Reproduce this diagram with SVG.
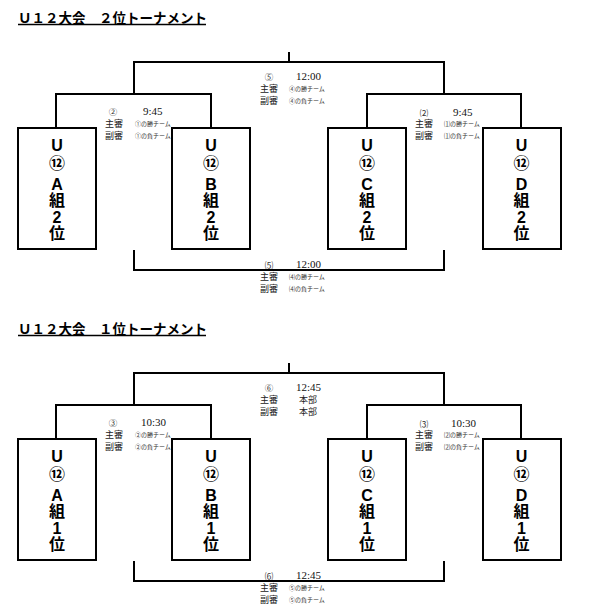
<svg xmlns="http://www.w3.org/2000/svg" width="593" height="609" viewBox="0 0 593 609">
<style>
.title{font-family:"Liberation Sans","Noto Sans CJK JP",sans-serif;font-weight:bold;font-size:13.5px;fill:#000}
.ul{stroke:#000;stroke-width:1.3}
.br{fill:none;stroke:#000;stroke-width:2}
.box{fill:#fff;stroke:#000;stroke-width:2}
.bt{font-family:"Liberation Sans","Noto Sans CJK JP",sans-serif;font-weight:bold;font-size:16px;fill:#000;text-anchor:middle;dominant-baseline:central}
.num{font-family:"Noto Sans CJK JP",sans-serif;font-size:8.5px;fill:#333;text-anchor:middle;dominant-baseline:central}
.tm{font-family:"Liberation Serif",serif;font-size:11px;fill:#111;dominant-baseline:central}
.ref{font-family:"Noto Sans CJK JP",sans-serif;font-size:9px;fill:#222;dominant-baseline:central}
.sm{font-family:"Noto Sans CJK JP",sans-serif;font-size:6px;fill:#333;dominant-baseline:central}
</style>
<rect width="593" height="609" fill="#fff"/>

<!-- titles -->
<text class="title" x="18" y="22.5">Ｕ１２大会　２位トーナメント</text>
<line class="ul" x1="18" y1="24.5" x2="206" y2="24.5"/>
<text class="title" x="18" y="333.5">Ｕ１２大会　１位トーナメント</text>
<line class="ul" x1="18" y1="335.5" x2="206" y2="335.5"/>

<g id="connectors">
  <!-- 2nd place tournament -->
  <path class="br" d="M289 52V62M134 94V62H444V94M56 128V94H211V128M367 128V94H521V128M134 250V270H444V250"/>
  <!-- 1st place tournament -->
  <path class="br" d="M289 363V373M134 405V373H444V405M56 439V405H211V439M367 439V405H521V439M134 561V581H444V561"/>
</g>

<!-- 2nd place tournament nodes -->
<g id="u12-a2">
  <rect class="box" x="18" y="128" width="78" height="121"/>
  <text class="bt" x="57" y="145">U</text><text class="bt" x="57" y="163">⑫</text><text class="bt" x="57" y="184">A</text><text class="bt" x="57" y="200">組</text><text class="bt" x="57" y="217">2</text><text class="bt" x="57" y="233">位</text>
</g>
<g id="u12-b2">
  <rect class="box" x="172" y="128" width="78" height="121"/>
  <text class="bt" x="211" y="145">U</text><text class="bt" x="211" y="163">⑫</text><text class="bt" x="211" y="184">B</text><text class="bt" x="211" y="200">組</text><text class="bt" x="211" y="217">2</text><text class="bt" x="211" y="233">位</text>
</g>
<g id="u12-c2">
  <rect class="box" x="328" y="128" width="78" height="121"/>
  <text class="bt" x="367" y="145">U</text><text class="bt" x="367" y="163">⑫</text><text class="bt" x="367" y="184">C</text><text class="bt" x="367" y="200">組</text><text class="bt" x="367" y="217">2</text><text class="bt" x="367" y="233">位</text>
</g>
<g id="u12-d2">
  <rect class="box" x="483" y="128" width="78" height="121"/>
  <text class="bt" x="521.5" y="145">U</text><text class="bt" x="521.5" y="163">⑫</text><text class="bt" x="521.5" y="184">D</text><text class="bt" x="521.5" y="200">組</text><text class="bt" x="521.5" y="217">2</text><text class="bt" x="521.5" y="233">位</text>
</g>

<g id="match2-left">
  <text class="num" x="113" y="111">②</text><text class="tm" x="143" y="111">9:45</text>
  <text class="ref" x="105" y="123">主審</text><text class="sm" x="135" y="123">①の勝チーム</text>
  <text class="ref" x="105" y="135">副審</text><text class="sm" x="135" y="135">①の負チーム</text>
</g>
<g id="match2-right">
  <text class="num" x="424" y="112">⑵</text><text class="tm" x="453" y="112">9:45</text>
  <text class="ref" x="415" y="123">主審</text><text class="sm" x="444" y="123">⑴の勝チーム</text>
  <text class="ref" x="415" y="135">副審</text><text class="sm" x="444" y="135">⑴の負チーム</text>
</g>
<g id="match5-top">
  <text class="num" x="269" y="76">⑤</text><text class="tm" x="296" y="76">12:00</text>
  <text class="ref" x="260" y="88">主審</text><text class="sm" x="289" y="88">④の勝チーム</text>
  <text class="ref" x="260" y="100">副審</text><text class="sm" x="289" y="100">④の負チーム</text>
</g>
<g id="match5-bottom">
  <text class="num" x="269" y="264">⑸</text><text class="tm" x="296" y="264">12:00</text>
  <text class="ref" x="260" y="276">主審</text><text class="sm" x="289" y="276">⑷の勝チーム</text>
  <text class="ref" x="260" y="288">副審</text><text class="sm" x="289" y="288">⑷の負チーム</text>
</g>

<!-- 1st place tournament nodes -->
<g id="u12-a1">
  <rect class="box" x="18" y="439" width="78" height="121"/>
  <text class="bt" x="57" y="456">U</text><text class="bt" x="57" y="474">⑫</text><text class="bt" x="57" y="495">A</text><text class="bt" x="57" y="511">組</text><text class="bt" x="57" y="528">1</text><text class="bt" x="57" y="544">位</text>
</g>
<g id="u12-b1">
  <rect class="box" x="172" y="439" width="78" height="121"/>
  <text class="bt" x="211" y="456">U</text><text class="bt" x="211" y="474">⑫</text><text class="bt" x="211" y="495">B</text><text class="bt" x="211" y="511">組</text><text class="bt" x="211" y="528">1</text><text class="bt" x="211" y="544">位</text>
</g>
<g id="u12-c1">
  <rect class="box" x="328" y="439" width="78" height="121"/>
  <text class="bt" x="367" y="456">U</text><text class="bt" x="367" y="474">⑫</text><text class="bt" x="367" y="495">C</text><text class="bt" x="367" y="511">組</text><text class="bt" x="367" y="528">1</text><text class="bt" x="367" y="544">位</text>
</g>
<g id="u12-d1">
  <rect class="box" x="483" y="439" width="78" height="121"/>
  <text class="bt" x="521.5" y="456">U</text><text class="bt" x="521.5" y="474">⑫</text><text class="bt" x="521.5" y="495">D</text><text class="bt" x="521.5" y="511">組</text><text class="bt" x="521.5" y="528">1</text><text class="bt" x="521.5" y="544">位</text>
</g>

<g id="match3-left">
  <text class="num" x="113" y="422">③</text><text class="tm" x="141" y="422">10:30</text>
  <text class="ref" x="105" y="434">主審</text><text class="sm" x="135" y="434">②の勝チーム</text>
  <text class="ref" x="105" y="446">副審</text><text class="sm" x="135" y="446">②の負チーム</text>
</g>
<g id="match3-right">
  <text class="num" x="424" y="423">⑶</text><text class="tm" x="451" y="423">10:30</text>
  <text class="ref" x="415" y="434">主審</text><text class="sm" x="444" y="434">⑵の勝チーム</text>
  <text class="ref" x="415" y="446">副審</text><text class="sm" x="444" y="446">⑵の負チーム</text>
</g>
<g id="match6-top">
  <text class="num" x="269" y="387">⑥</text><text class="tm" x="296" y="387">12:45</text>
  <text class="ref" x="260" y="399">主審</text><text class="ref" x="299" y="399">本部</text>
  <text class="ref" x="260" y="411">副審</text><text class="ref" x="299" y="411">本部</text>
</g>
<g id="match6-bottom">
  <text class="num" x="269" y="575">⑹</text><text class="tm" x="296" y="575">12:45</text>
  <text class="ref" x="260" y="587">主審</text><text class="sm" x="289" y="587">⑤の勝チーム</text>
  <text class="ref" x="260" y="599">副審</text><text class="sm" x="289" y="599">⑤の負チーム</text>
</g>
</svg>
